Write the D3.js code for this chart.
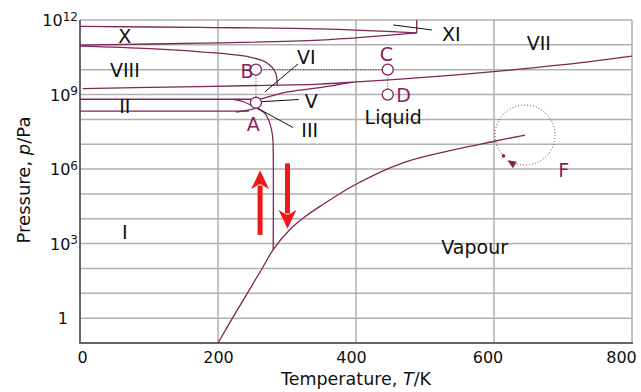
<!DOCTYPE html>
<html><head><meta charset="utf-8">
<script src="https://cdn.jsdelivr.net/npm/d3@7"></script>
<style>body{margin:0;background:#fff}svg{display:block}</style>
</head><body><svg id="c" width="641" height="392"></svg>
<script>
// ---------- data (T in K, values as log10(p/Pa)) ----------
const xTicks = [0, 200, 400, 600, 800];
const xTickShift = [2, 0, -5, -6.5, -11];
const yTickExps = [12, 9, 6, 3, 0];
const gridExps = [0,1,2,3,4,5,6,7,8,9,10,11,12];

const topLine    = [[0,11.74],[174,11.70],[348,11.64],[488,11.48]];
const lensLower  = [[0,10.99],[174,11.07],[348,11.19],[488,11.48]];
const xiTick     = [[488,11.48],[488,12]];
const viiiVi     = [[0,10.95],[101,10.85],[174,10.72],[246,10.51],[271,10.27],[283,9.90],[286,9.38]];
const viVii      = [[4,9.24],[174,9.32],[286,9.38],[348,9.42],[396,9.50],[493,9.68],[599,9.92],[696,10.19],[800,10.55]];
const vVi        = [[261,8.81],[290,9.04],[319,9.18],[348,9.28],[396,9.50]];
const iiUpper    = [[0,8.81],[248,8.81]];
const iiLower    = [[0,8.33],[245,8.33]];
const lensC1     = [[222,8.81],[238,8.70],[256,8.45]];
const lensC2     = [[226,8.29],[241,8.36],[256,8.45]];
const melting    = [[256,8.45],[268,8.24],[275,7.85],[279,7.36],[280,6.76],[280,2.76]];
const sublimation= [[200,-1],[222,0.05],[243.5,1.05],[264,2.00],[280,2.76],[304.3,3.57],[326,4.08],[348,4.50],[396,5.33],[468,6.25],[541,6.77],[599,7.11],[645,7.37]];
const curves = [topLine, lensLower, xiTick, viiiVi, viVii, vVi, iiUpper, iiLower, lensC1, lensC2, melting, sublimation];

const points = [
  {name:"A", T:255, lp:8.67, lx:251, llp:7.80},
  {name:"B", T:255, lp:10.0, lx:242, llp:9.93},
  {name:"C", T:446, lp:10.0, lx:444, llp:10.62},
  {name:"D", T:446, lp:9.0,  lx:469, llp:8.98}
];
const dotted = [[[255,8.67],[255,10.0]], [[255,10.0],[446,10.0]], [[446,10.0],[446,9.0]]];

const regionLabels = [
  {t:"X",T:65,lp:11.35},{t:"VIII",T:65,lp:9.98},{t:"II",T:65,lp:8.55},{t:"I",T:65,lp:3.45},
  {t:"VI",T:328,lp:10.51},{t:"V",T:335,lp:8.73},{t:"III",T:333,lp:7.58},
  {t:"XI",T:538,lp:11.44},{t:"VII",T:665,lp:11.07},
  {t:"Liquid",T:454,lp:8.09},{t:"Vapour",T:572,lp:2.85}
];
const pointers = [
  [[268,9.11],[316,10.23]],
  [[262,8.71],[317,8.80]],
  [[256,8.47],[309,7.67]],
  [[454,11.8],[510,11.6]]
];
const redArrows = [
  {T:261, from:3.35, to:5.95},
  {T:300.7, from:6.23, to:3.60}
];
const critical = {T:645, lp:7.37, labT:701, labLp:5.96};

// ---------- drawing ----------
const svg = d3.select("#c");
const x = d3.scaleLinear().domain([0,800]).range([80,632]);
const y = d3.scaleLog().domain([0.1,1e12]).range([343,20]);
const Y = lp => y(Math.pow(10, lp));
const lineCol = "#7e2658", labCol = "#861f5c", gridCol = "#b0afb1", axisCol = "#666";
const font = "DejaVu Sans, Liberation Sans, sans-serif";

// grid
svg.append("g").selectAll("line").data(gridExps).join("line")
  .attr("x1", x(0)).attr("x2", x(800)).attr("y1", d=>Y(d)).attr("y2", d=>Y(d))
  .attr("stroke", gridCol).attr("stroke-width", 1.5);
svg.append("g").selectAll("line").data(xTicks.filter(d=>d>0)).join("line")
  .attr("x1", d=>x(d)).attr("x2", d=>x(d)).attr("y1", Y(12)).attr("y2", Y(-1))
  .attr("stroke", gridCol).attr("stroke-width", 1.5);
svg.append("line").attr("x1",x(0)).attr("x2",x(0)).attr("y1",Y(12)).attr("y2",Y(-1))
  .attr("stroke",axisCol).attr("stroke-width",2);
svg.append("line").attr("x1",x(0)-1).attr("x2",x(800)+1).attr("y1",Y(-1)).attr("y2",Y(-1))
  .attr("stroke",axisCol).attr("stroke-width",2);

// axes
const gx = svg.append("g").attr("transform",`translate(0,${Y(-1)})`)
  .call(d3.axisBottom(x).tickValues(xTicks).tickSize(0).tickPadding(9));
gx.select(".domain").remove();
gx.selectAll("text").attr("font-family",font).attr("font-size","16px").attr("fill","#111")
  .attr("dx", (d,i)=>xTickShift[i]);

const gy = svg.append("g").attr("transform",`translate(${x(0)},0)`)
  .call(d3.axisLeft(y).tickValues(yTickExps.map(e=>Math.pow(10,e))).tickSize(0).tickPadding(2));
gy.select(".domain").remove();
gy.selectAll("text").attr("font-family",font).attr("font-size","16px").attr("fill","#111")
  .attr("dy","0.35em")
  .each(function(d){
    const e = Math.round(Math.log10(d));
    const t = d3.select(this).text(null);
    if (e === 0) { t.attr("dx","-10").text("1"); }
    else {
      t.append("tspan").text("10");
      t.append("tspan").attr("dy","-0.45em").attr("font-size","12px").text(e);
    }
  });

// axis titles
const xt = svg.append("text").attr("x",356).attr("y",385).attr("text-anchor","middle")
  .attr("font-family",font).attr("font-size","17.5px").attr("fill","#111");
xt.append("tspan").text("Temperature, ");
xt.append("tspan").attr("font-style","italic").text("T");
xt.append("tspan").text("/K");
const yt = svg.append("text").attr("transform","translate(30,180) rotate(-90)").attr("text-anchor","middle")
  .attr("font-family",font).attr("font-size","18px").attr("fill","#111");
yt.append("tspan").text("Pressure, ");
yt.append("tspan").attr("font-style","italic").text("p");
yt.append("tspan").text("/Pa");

// curves
const line = d3.line().x(d=>x(d[0])).y(d=>Y(d[1])).curve(d3.curveCatmullRom.alpha(0.5));
svg.append("g").selectAll("path").data(curves).join("path")
  .attr("d", line).attr("fill","none").attr("stroke",lineCol).attr("stroke-width",1.3);

// pointer lines
const straight = d3.line().x(d=>x(d[0])).y(d=>Y(d[1]));
svg.append("g").selectAll("path").data(pointers).join("path")
  .attr("d", straight).attr("stroke","#111").attr("stroke-width",1).attr("fill","none");

// dotted connectors
svg.append("g").selectAll("path").data(dotted).join("path")
  .attr("d", straight).attr("stroke",lineCol).attr("stroke-width",1).attr("stroke-dasharray","1,1.6").attr("fill","none");

// region labels
svg.append("g").selectAll("text").data(regionLabels).join("text")
  .attr("x", d=>x(d.T)).attr("y", d=>Y(d.lp)).attr("dy","0.36em").attr("text-anchor","middle")
  .attr("font-family",font).attr("font-size","19px").attr("fill","#111").text(d=>d.t);

// point circles and labels
svg.append("g").selectAll("circle").data(points).join("circle")
  .attr("cx", d=>x(d.T)).attr("cy", d=>Y(d.lp)).attr("r",5.5)
  .attr("fill","#fff").attr("stroke",lineCol).attr("stroke-width",1.3);
svg.append("g").selectAll("text").data(points).join("text")
  .attr("x", d=>x(d.lx)).attr("y", d=>Y(d.llp)).attr("dy","0.36em").attr("text-anchor","middle")
  .attr("font-family",font).attr("font-size","19px").attr("fill",labCol).text(d=>d.name);

// F: dotted circle around the critical point
const cx = x(critical.T), cy = Y(critical.lp), r = 30;
const a0 = 136*Math.PI/180, a1 = 475*Math.PI/180;
const p = d3.path(); p.moveTo(cx + r*Math.cos(a0), cy + r*Math.sin(a0)); p.arc(cx, cy, r, a0, a1);
svg.append("path").attr("d", p.toString()).attr("fill","none").attr("stroke",lineCol)
  .attr("stroke-width",1).attr("stroke-dasharray","1,2");
svg.append("circle").attr("cx", cx + r*Math.cos(a0)).attr("cy", cy + r*Math.sin(a0)).attr("r",1.8).attr("fill",lineCol);
const ax = cx + r*Math.cos(a1), ay = cy + r*Math.sin(a1);
svg.append("path").attr("d", `M${ax-5},${ay-2}L${ax+4.5},${ay-0.5}L${ax+0.5},${ay+6}Z`).attr("fill",lineCol);
svg.append("text").attr("x", x(critical.labT)).attr("y", Y(critical.labLp)).attr("dy","0.36em")
  .attr("text-anchor","middle").attr("font-family",font).attr("font-size","19px").attr("fill",labCol).text("F");

// red arrows
const red = "#f01818";
redArrows.forEach(a => {
  const ax = x(a.T), y0 = Y(a.from), y1 = Y(a.to);
  const dir = y1 < y0 ? -1 : 1, hl = 19, hw = 9;
  svg.append("line").attr("x1",ax).attr("x2",ax).attr("y1",y0).attr("y2",y1 - dir*hl*0.8)
    .attr("stroke",red).attr("stroke-width",5);
  svg.append("path").attr("d",`M${ax},${y1}L${ax-hw},${y1-dir*hl}L${ax-1.5},${y1-dir*hl*0.75}L${ax+1.5},${y1-dir*hl*0.75}L${ax+hw},${y1-dir*hl}Z`)
    .attr("fill",red);
});
</script></body></html>
